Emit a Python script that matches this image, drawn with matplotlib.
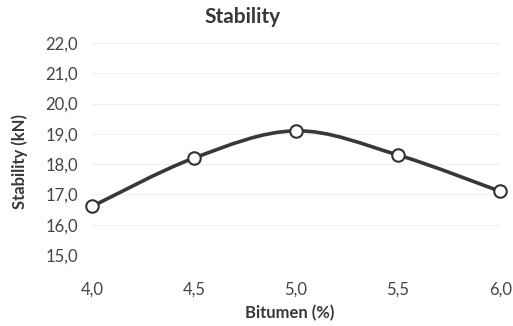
import matplotlib.pyplot as plt
import matplotlib.ticker as mticker
from matplotlib.path import Path
from matplotlib.patches import PathPatch

plt.rcParams['font.family'] = ['Lato', 'DejaVu Sans']

# data
bitumen = [4.0, 4.5, 5.0, 5.5, 6.0]
stability = [16.6, 18.2, 19.1, 18.3, 17.1]

fig = plt.figure(figsize=(5.13, 3.26), dpi=100)
ax = fig.add_axes([0.179, 0.218, 0.796, 0.650])

# smoothed line like excel: bezier segments through the points
verts = [(bitumen[0], stability[0])]
codes = [Path.MOVETO]
n = len(bitumen)
for i in range(n - 1):
    p0 = (bitumen[max(i - 1, 0)], stability[max(i - 1, 0)])
    p1 = (bitumen[i], stability[i])
    p2 = (bitumen[i + 1], stability[i + 1])
    p3 = (bitumen[min(i + 2, n - 1)], stability[min(i + 2, n - 1)])
    c1 = (p1[0] + (p2[0] - p0[0]) / 6, p1[1] + (p2[1] - p0[1]) / 6)
    c2 = (p2[0] - (p3[0] - p1[0]) / 6, p2[1] - (p3[1] - p1[1]) / 6)
    verts += [c1, c2, p2]
    codes += [Path.CURVE4] * 3
ax.add_patch(PathPatch(Path(verts, codes), facecolor='none', edgecolor='#383838',
                       lw=2.6, capstyle='round', joinstyle='round', zorder=3))
ax.plot(bitumen, stability, ls='none', marker='o', ms=9, mfc='white',
        mec='#333333', mew=1.5, zorder=4, clip_on=False)

ax.set_xlim(4.0, 6.0)
ax.set_ylim(15.0, 22.0)
ax.set_xticks([4.0, 4.5, 5.0, 5.5, 6.0])
ax.set_yticks(range(15, 23))
fmt = mticker.FuncFormatter(lambda v, p: f"{v:.1f}".replace('.', ','))
ax.xaxis.set_major_formatter(fmt)
ax.yaxis.set_major_formatter(fmt)
ax.tick_params(axis='both', length=0, labelsize=12, colors='#444444')
ax.tick_params(axis='x', pad=19)
ax.tick_params(axis='y', pad=10)
ax.grid(axis='y', color='#f0f0f0', lw=0.8)
for s in ax.spines.values():
    s.set_visible(False)

fig.text(0.472, 0.948, 'Stability', fontsize=15, fontweight='bold', color='#383838',
         ha='center', va='center')
fig.text(0.565, 0.040, 'Bitumen (%)', fontsize=12, fontweight='bold', color='#383838',
         ha='center', va='center')
fig.text(0.039, 0.505, 'Stability (kN)', fontsize=12, fontweight='bold', color='#383838',
         ha='center', va='center', rotation=90)

plt.savefig('out.png', dpi=100)
